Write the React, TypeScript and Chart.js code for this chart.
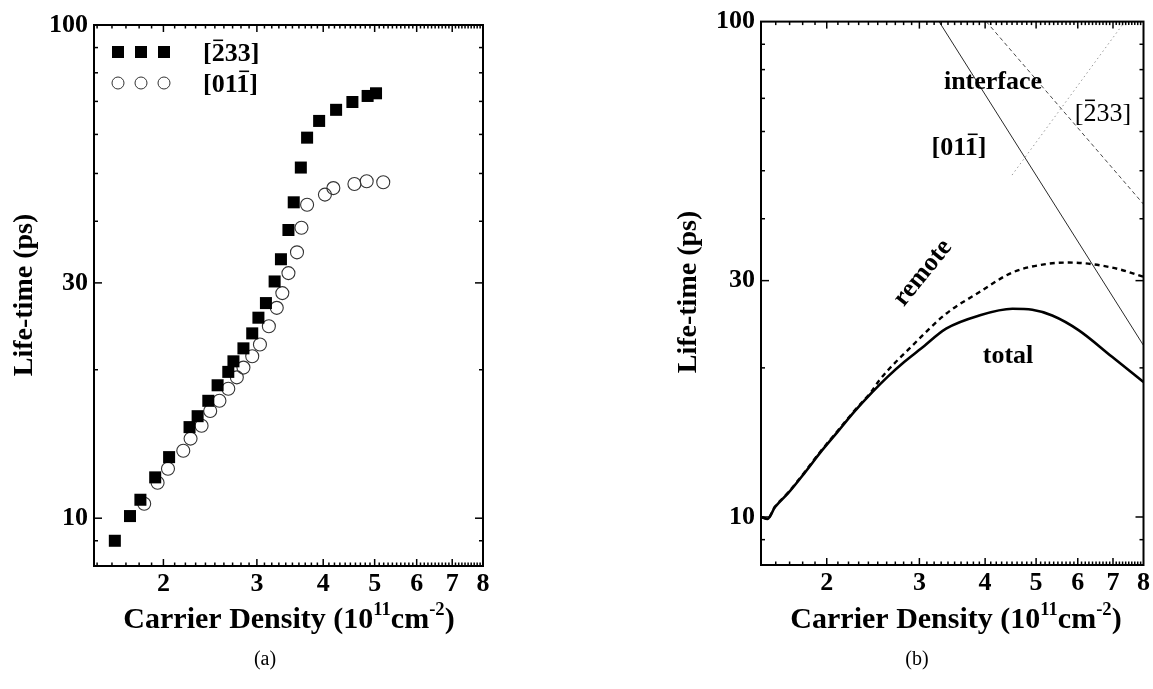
import React, { useEffect, useRef } from "react";
import { Chart, registerables } from "chart.js";
Chart.register(...registerables);

const FONT = "'Liberation Serif', 'Times New Roman', serif";

// ---- axis ticks ----
const X_TICK_LABELS = [2, 3, 4, 5, 6, 7, 8];
const Y_TICK_LABELS = [10, 30, 100];
const Y_MINOR = [9, 20, 40, 50, 60, 70, 80, 90];
const X_MINOR: number[] = [];
for (let i = 15; i < 80; i++) if (i % 10 !== 0) X_MINOR.push(i / 10);

// ---- panel (a): measured lifetimes ----
const A_SQ_X = [1.62, 1.73, 1.81, 1.93, 2.05, 2.24, 2.32, 2.43, 2.53, 2.65, 2.71, 2.83, 2.94, 3.02, 3.12, 3.24, 3.33, 3.44, 3.52, 3.63, 3.73, 3.93, 4.23, 4.54, 4.85, 5.03];
const A_SQ_Y = [9.0, 10.1, 10.9, 12.1, 13.3, 15.3, 16.1, 17.3, 18.6, 19.8, 20.8, 22.1, 23.7, 25.5, 27.3, 30.2, 33.5, 38.4, 43.7, 51.4, 59.1, 63.9, 67.3, 69.8, 71.8, 72.7];
const A_CI_X = [1.84, 1.95, 2.04, 2.18, 2.25, 2.36, 2.45, 2.55, 2.65, 2.75, 2.83, 2.94, 3.04, 3.16, 3.27, 3.35, 3.44, 3.57, 3.64, 3.73, 4.03, 4.18, 4.58, 4.83, 5.19];
const A_CI_Y = [10.7, 11.8, 12.6, 13.7, 14.5, 15.4, 16.5, 17.3, 18.3, 19.3, 20.2, 21.3, 22.5, 24.5, 26.7, 28.6, 31.4, 34.6, 38.8, 43.2, 45.3, 46.7, 47.6, 48.2, 48.0];

// ---- panel (b): calculated lifetimes ----
const B_TOTAL_X = [1.5, 1.544, 1.594, 1.689, 1.817, 1.954, 2.101, 2.259, 2.431, 2.613, 2.81, 3.023, 3.372, 3.897, 4.507, 4.917, 5.365, 6.029, 6.971, 8.0];
const B_TOTAL_Y = [10.0, 9.91, 10.46, 11.17, 12.29, 13.58, 14.89, 16.33, 17.78, 19.2, 20.57, 21.88, 24.0, 25.51, 26.32, 26.2, 25.51, 23.81, 21.05, 18.73];
const B_REMOTE_X = [1.5, 1.544, 1.594, 1.689, 1.817, 1.954, 2.101, 2.259, 2.431, 2.52, 2.914, 3.372, 3.897, 4.507, 5.213, 5.772, 6.39, 7.176, 8.0];
const B_REMOTE_Y = [10.0, 9.93, 10.49, 11.2, 12.33, 13.63, 14.95, 16.4, 17.9, 18.9, 22.22, 25.72, 28.42, 31.16, 32.39, 32.63, 32.39, 31.65, 30.55];
const B_IF011_X = [3.27, 8.0];
const B_IF011_Y = [100, 22.2];
const B_IF233_X = [4.02, 8.0];
const B_IF233_Y = [100, 42.8];
const B_DOT_X = [4.5, 7.37];
const B_DOT_Y = [49.0, 100];

const pts = (xs: number[], ys: number[]) => xs.map((x, i) => ({ x, y: ys[i] }));

function setFont(ctx: CanvasRenderingContext2D, size: number, bold: boolean) {
  ctx.font = `${bold ? "bold " : ""}${size}px ${FONT}`;
}

function seg(ctx: CanvasRenderingContext2D, x1: number, y1: number, x2: number, y2: number) {
  ctx.beginPath();
  ctx.moveTo(x1, y1);
  ctx.lineTo(x2, y2);
  ctx.stroke();
}

function drawBarred(ctx: CanvasRenderingContext2D, text: string, barIdx: number, x: number, cy: number, size: number, bold: boolean, align: "left" | "center") {
  setFont(ctx, size, bold);
  const w = ctx.measureText(text).width;
  const x0 = align === "center" ? x - w / 2 : x;
  const base = cy + size * 0.33;
  ctx.textAlign = "left";
  ctx.textBaseline = "alphabetic";
  ctx.fillText(text, x0, base);
  const pre = ctx.measureText(text.slice(0, barIdx)).width;
  const cw = ctx.measureText(text[barIdx]).width;
  const by = base - size * 0.78;
  ctx.lineWidth = Math.max(1, size * 0.06);
  seg(ctx, x0 + pre + cw * 0.12, by, x0 + pre + cw * 0.88, by);
}

function drawXTitle(ctx: CanvasRenderingContext2D, cx: number, cy: number, size: number) {
  const parts: [string, boolean][] = [["Carrier Density (10", false], ["11", true], ["cm", false], ["-2", true], [")", false]];
  const sup = size * 0.62;
  let total = 0;
  const widths = parts.map(([t, s]) => {
    setFont(ctx, s ? sup : size, true);
    const w = ctx.measureText(t).width;
    total += w;
    return w;
  });
  let x = cx - total / 2;
  const base = cy + size * 0.33;
  ctx.textAlign = "left";
  ctx.textBaseline = "alphabetic";
  parts.forEach(([t, s], i) => {
    setFont(ctx, s ? sup : size, true);
    ctx.fillText(t, x, s ? base - size * 0.42 : base);
    x += widths[i];
  });
}

function drawYTitle(ctx: CanvasRenderingContext2D, cx: number, cy: number, size: number) {
  ctx.save();
  ctx.translate(cx, cy);
  ctx.rotate(-Math.PI / 2);
  setFont(ctx, size, true);
  ctx.textAlign = "center";
  ctx.textBaseline = "middle";
  ctx.fillText("Life-time (ps)", 0, 0);
  ctx.restore();
}

function drawText(ctx: CanvasRenderingContext2D, t: string, cx: number, cy: number, size: number, bold: boolean, rot = 0) {
  ctx.save();
  ctx.translate(cx, cy);
  if (rot) ctx.rotate(rot);
  setFont(ctx, size, bold);
  ctx.textAlign = "center";
  ctx.textBaseline = "middle";
  ctx.fillText(t, 0, 0);
  ctx.restore();
}

function decorPlugin(draw: (ctx: CanvasRenderingContext2D) => void) {
  return {
    id: "decor",
    beforeDraw(chart: any) {
      const ctx = chart.ctx as CanvasRenderingContext2D;
      ctx.save();
      ctx.fillStyle = "#fff";
      ctx.fillRect(0, 0, chart.width, chart.height);
      ctx.restore();
    },
    afterDraw(chart: any) {
      const ctx = chart.ctx as CanvasRenderingContext2D;
      const a = chart.chartArea;
      const xs = chart.scales.x;
      const ys = chart.scales.y;
      ctx.save();
      ctx.strokeStyle = "#000";
      ctx.fillStyle = "#000";
      ctx.lineWidth = 1.5;
      const xt = (vals: number[], len: number) => {
        vals.forEach((v) => {
          const p = xs.getPixelForValue(v);
          if (p < a.left + 1 || p > a.right - 1) return;
          seg(ctx, p, a.bottom, p, a.bottom - len);
          seg(ctx, p, a.top, p, a.top + len);
        });
      };
      const yt = (vals: number[], len: number) => {
        vals.forEach((v) => {
          const p = ys.getPixelForValue(v);
          if (p < a.top + 1 || p > a.bottom - 1) return;
          seg(ctx, a.left, p, a.left + len, p);
          seg(ctx, a.right, p, a.right - len, p);
        });
      };
      xt(X_TICK_LABELS, 7);
      xt(X_MINOR, 3.5);
      yt(Y_TICK_LABELS, 8);
      yt(Y_MINOR, 4);
      ctx.lineWidth = 2;
      ctx.strokeRect(a.left, a.top, a.right - a.left, a.bottom - a.top);
      draw(ctx);
      ctx.restore();
    },
  };
}

function makeOptions(xMin: number, yW: number, xH: number, padding: any): any {
  const tickFont = { family: FONT, size: 26, weight: "bold" as const };
  return {
    responsive: false,
    animation: false,
    layout: { padding },
    plugins: { legend: { display: false }, tooltip: { enabled: false }, title: { display: false } },
    scales: {
      x: {
        type: "logarithmic",
        position: "bottom",
        min: xMin,
        max: 8,
        afterBuildTicks: (s: any) => {
          s.ticks = X_TICK_LABELS.map((v) => ({ value: v }));
        },
        afterFit: (s: any) => {
          s.height = xH;
        },
        ticks: { autoSkip: false, maxRotation: 0, minRotation: 0, padding: 3, color: "#000", font: tickFont, callback: (v: any) => String(v) },
        grid: { display: false, drawTicks: false },
        border: { display: false },
      },
      y: {
        type: "logarithmic",
        position: "left",
        min: 8,
        max: 100,
        afterBuildTicks: (s: any) => {
          s.ticks = Y_TICK_LABELS.map((v) => ({ value: v }));
        },
        afterFit: (s: any) => {
          s.width = yW;
        },
        ticks: { autoSkip: false, padding: 6, color: "#000", font: tickFont, callback: (v: any) => String(v) },
        grid: { display: false, drawTicks: false },
        border: { display: false },
      },
    },
  };
}

export default function App() {
  const refA = useRef<HTMLCanvasElement>(null);
  const refB = useRef<HTMLCanvasElement>(null);

  useEffect(() => {
    const chartA = new Chart(refA.current as HTMLCanvasElement, {
      type: "scatter",
      data: {
        datasets: [
          {
            label: "[-233]",
            data: pts(A_SQ_X, A_SQ_Y),
            pointStyle: "rect",
            pointRadius: 8.5,
            backgroundColor: "#000",
            borderWidth: 0,
            order: 0,
          } as any,
          {
            label: "[01-1]",
            data: pts(A_CI_X, A_CI_Y),
            pointStyle: "circle",
            pointRadius: 6.5,
            backgroundColor: "rgba(255,255,255,0)",
            borderColor: "#333",
            borderWidth: 1.1,
            order: 1,
          } as any,
        ],
      },
      options: makeOptions(1.48, 94, 60, { left: 0, top: 25, right: 93, bottom: 63 }),
      plugins: [
        decorPlugin((ctx) => {
          drawYTitle(ctx, 25, 295, 28);
          drawXTitle(ctx, 289, 618, 30);
          drawText(ctx, "(a)", 265, 660, 20, false);
          // legend
          [118, 141, 164].forEach((x) => {
            ctx.fillStyle = "#000";
            ctx.fillRect(x - 6, 52 - 6, 12, 12);
            ctx.beginPath();
            ctx.arc(x, 83, 6, 0, Math.PI * 2);
            ctx.lineWidth = 1;
            ctx.strokeStyle = "#333";
            ctx.stroke();
          });
          ctx.fillStyle = "#000";
          ctx.strokeStyle = "#000";
          drawBarred(ctx, "[233]", 1, 203, 52, 26, true, "left");
          drawBarred(ctx, "[011]", 3, 203, 83, 26, true, "left");
        }),
      ],
    });

    const chartB = new Chart(refB.current as HTMLCanvasElement, {
      type: "scatter",
      data: {
        datasets: [
          { label: "total", data: pts(B_TOTAL_X, B_TOTAL_Y), showLine: true, pointRadius: 0, borderColor: "#000", borderWidth: 2.6, cubicInterpolationMode: "monotone" } as any,
          { label: "remote", data: pts(B_REMOTE_X, B_REMOTE_Y), showLine: true, pointRadius: 0, borderColor: "#000", borderWidth: 2.4, borderDash: [5, 4], cubicInterpolationMode: "monotone" } as any,
          { label: "interface [01-1]", data: pts(B_IF011_X, B_IF011_Y), showLine: true, pointRadius: 0, borderColor: "#111", borderWidth: 0.9 } as any,
          { label: "interface [-233]", data: pts(B_IF233_X, B_IF233_Y), showLine: true, pointRadius: 0, borderColor: "#333", borderWidth: 0.9, borderDash: [4, 3] } as any,
          { label: "dotted", data: pts(B_DOT_X, B_DOT_Y), showLine: true, pointRadius: 0, borderColor: "#999", borderWidth: 1, borderDash: [1.5, 3] } as any,
        ],
      },
      options: makeOptions(1.5, 185, 60, { left: 0, top: 19, right: 8, bottom: 64 }),
      plugins: [
        decorPlugin((ctx) => {
          ctx.fillStyle = "#000";
          ctx.strokeStyle = "#000";
          drawYTitle(ctx, 113, 292, 28);
          drawXTitle(ctx, 380, 618, 30);
          drawText(ctx, "(b)", 341, 660, 20, false);
          drawText(ctx, "interface", 417, 82, 26, true);
          drawBarred(ctx, "[233]", 1, 527, 112, 26, false, "center");
          drawBarred(ctx, "[011]", 3, 383, 146, 26, true, "center");
          drawText(ctx, "remote", 347, 273, 26, true, (-51 * Math.PI) / 180);
          drawText(ctx, "total", 432, 356, 26, true);
        }),
      ],
    });

    return () => {
      chartA.destroy();
      chartB.destroy();
    };
  }, []);

  return (
    <div style={{ position: "fixed", left: 0, top: 0, width: 1153, height: 689, background: "#fff" }}>
      <canvas ref={refA} width={576} height={689} style={{ position: "absolute", left: 0, top: 0 }} />
      <canvas ref={refB} width={577} height={689} style={{ position: "absolute", left: 576, top: 0 }} />
    </div>
  );
}
